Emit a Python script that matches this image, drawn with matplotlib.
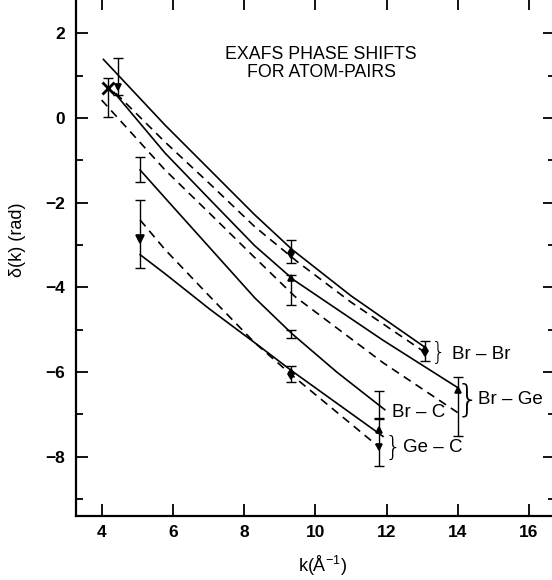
import numpy as np
import matplotlib
matplotlib.use("Agg")
import matplotlib.pyplot as plt
from matplotlib.ticker import MultipleLocator

plt.rcParams['font.family'] = ['Liberation Sans', 'DejaVu Sans']

# phase shift curves: k (1/A) and delta(k) (rad)
k_brbr_s = [4.05, 5.78, 7.04, 8.30, 9.35, 11.0, 13.05]
d_brbr_s = [1.38, -0.17, -1.23, -2.29, -3.11, -4.20, -5.40]
k_brbr_d = [4.40, 5.78, 7.04, 8.30, 9.50, 11.0, 13.05]
d_brbr_d = [0.58, -0.57, -1.56, -2.57, -3.40, -4.35, -5.52]

k_brge_s = [4.35, 5.78, 7.04, 8.30, 9.40, 11.9, 14.0]
d_brge_s = [0.60, -0.83, -1.93, -3.02, -3.83, -5.25, -6.37]
k_brge_d = [4.00, 5.78, 7.04, 8.30, 9.43, 11.9, 14.0]
d_brge_d = [0.42, -1.23, -2.26, -3.30, -4.22, -5.78, -6.96]

k_brc_s = [5.08, 5.78, 7.04, 8.30, 9.35, 10.6, 11.95]
d_brc_s = [-1.23, -1.89, -3.07, -4.25, -5.10, -6.00, -6.89]

k_gec_d = [5.08, 5.78, 7.04, 8.30, 9.35, 11.8]
d_gec_d = [-2.41, -3.11, -4.22, -5.31, -6.08, -7.78]
k_gec_s = [5.08, 5.78, 7.04, 8.30, 9.35, 11.9]
d_gec_s = [-3.23, -3.68, -4.52, -5.31, -5.98, -7.52]

# error bars: position, lower end, upper end
eb_k = [4.18, 4.45, 5.08, 5.08, 9.32, 9.32, 9.32, 9.32, 13.08, 14.0, 11.78, 11.8]
eb_lo = [0.02, 0.55, -1.51, -3.54, -3.42, -4.41, -5.19, -6.23, -5.75, -7.52, -7.08, -8.23]
eb_hi = [0.94, 1.42, -0.92, -1.93, -2.88, -3.70, -5.00, -5.87, -5.28, -6.13, -6.46, -7.12]

# measured points sitting on the bars
mk_k = [4.18, 4.45, 5.08, 9.32, 9.32, 9.32, 13.08, 14.0, 11.8, 11.8]
mk_d = [0.71, 0.72, -2.85, -3.18, -3.77, -6.05, -5.50, -6.42, -7.36, -7.78]
mk_style = ['x', 'v', 'v', 'd', '^', 'd', 'd', '^', '^', 'v']
mk_size = [8, 5, 6, 5, 5, 5, 5, 5, 5, 5]

labels = ['Br – Br', 'Br – Ge', 'Br – C', 'Ge – C']
label_k = [13.84, 14.57, 12.15, 12.46]
label_d = [-5.59, -6.65, -6.96, -7.78]
brace_k = [13.45, 14.28, 12.18]
brace_d = [-5.55, -6.67, -7.78]
brace_size = [17, 27, 19]

fig = plt.figure(figsize=(5.52, 5.8), dpi=100)
ax = fig.add_axes([76/552, 64/580, (555-76)/552, (582-64)/580])

solid = dict(color='black', lw=1.2)
dashed = dict(color='black', lw=1.2, linestyle=(0, (5, 3.5)))
ax.plot(k_brbr_s, d_brbr_s, **solid)
ax.plot(k_brbr_d, d_brbr_d, **dashed)
ax.plot(k_brge_s, d_brge_s, **solid)
ax.plot(k_brge_d, d_brge_d, **dashed)
ax.plot(k_brc_s, d_brc_s, **solid)
ax.plot(k_gec_d, d_gec_d, **dashed)
ax.plot(k_gec_s, d_gec_s, **solid)

lo = np.array(eb_lo)
hi = np.array(eb_hi)
mid = (lo + hi) / 2
ax.errorbar(eb_k, mid, yerr=(hi - lo) / 2, fmt='none', ecolor='black',
            elinewidth=1.0, capsize=3.5, capthick=1.0)

for x, y, m, s in zip(mk_k, mk_d, mk_style, mk_size):
    ax.plot(x, y, marker=m, color='black', ms=s, mew=2 if m == 'x' else 1.2)

for t, x, y in zip(labels, label_k, label_d):
    ax.text(x, y, t, fontsize=13.5, va='center', ha='left')
for x, y, s in zip(brace_k, brace_d, brace_size):
    ax.text(x, y, '}', fontsize=s, va='center', ha='center',
            family='DejaVu Sans', fontweight='light')

ax.text(10.16, 1.49, 'EXAFS PHASE SHIFTS', fontsize=12.8, ha='center', va='center')
ax.text(10.16, 1.06, 'FOR ATOM-PAIRS', fontsize=12.8, ha='center', va='center')

ax.set_xlim(3.28, 16.73)
ax.set_ylim(-9.40, 2.83)
ax.xaxis.set_major_locator(MultipleLocator(2))
ax.yaxis.set_major_locator(MultipleLocator(2))
ax.yaxis.set_minor_locator(MultipleLocator(1))
ax.tick_params(which='both', direction='in', top=True, right=True, width=1.3)
ax.tick_params(which='major', length=8.5)
ax.tick_params(which='minor', length=5)
ax.tick_params(axis='x', pad=6.5)
ax.tick_params(axis='y', pad=8)
ax.set_xticks([4, 6, 8, 10, 12, 14, 16])
ax.set_xticklabels(['4', '6', '8', '10', '12', '14', '16'], fontsize=12.5, fontweight='bold')
yt = [2, 0, -2, -4, -6, -8]
ax.set_yticks(yt)
ax.set_yticklabels(['2', '0', '−2', '−4', '−6', '−8'], fontsize=12.5, fontweight='bold')
for s in ax.spines.values():
    s.set_linewidth(1.6)

fig.text(322/552, 1 - 566/580, 'k(Å$^{\\mathregular{-1}}$)', fontsize=13,
         ha='center', va='center')
fig.text(18/552, 1 - 240/580, 'δ(k) (rad)', fontsize=13, rotation=90,
         ha='center', va='center')

fig.savefig('out.png', dpi=100)
